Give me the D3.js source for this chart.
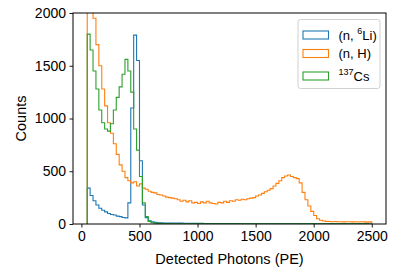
<!DOCTYPE html>
<html><head><meta charset="utf-8">
<script src="https://cdn.jsdelivr.net/npm/d3@7"></script>
<style>
html,body{margin:0;padding:0;background:#fff;}
svg{display:block;font-family:"Liberation Sans",Arial,Helvetica,sans-serif;}
</style></head>
<body><svg id="c" width="407" height="271"></svg>
<script>
// Histogram bins (PE): first edge and width
const binStart = 50;
const binWidth = 25;
const xTicks = [0, 500, 1000, 1500, 2000, 2500];
const yTicks = [0, 500, 1000, 1500, 2000];
const seriesNames = ["(n, 6Li)", "(n, H)", "137Cs"];
const colors = ["#1f77b4", "#ff7f0e", "#2ca02c"];

const nLi = [340,270,220,180,150,130,115,100,90,85,75,70,62,58,
  200,1100,1790,1550,600,180,60,
  30,20,15,12,11,10,10,9,9,8,8,8,7,7,7,6,6,6,6,5,5,5,5,5,4,4,4,4,4,4,4,3,3,3,3,3,3,3,3,3,3,3,3,2,2,2,2,2,2,2,2,2,2,2,2,2,2,2,2,2,2,2,2,2,1,1,1,1,1,1,1,1,1,1,1,1,1];
const nH = [2400,2150,1950,1700,1500,1280,1120,960,860,760,
  660,560,500,440,410,390,400,360,380,340,
  330,310,300,295,280,275,265,255,250,245,
  240,230,215,225,210,220,200,205,195,210,
  200,215,200,195,190,205,200,215,205,220,
  215,230,225,235,230,240,245,250,265,275,
  290,305,320,335,360,385,410,440,455,465,
  450,440,430,390,300,230,170,120,80,50,
  35,28,
  25,24,22,23,21,22,20,21,22,20,21,19,22,20,18,20];
const cs137 = [1800,1650,1450,1280,1080,960,900,880,950,1080,1200,1300,1420,1560,1450,1250,900,700,450,200,70,25,12,
  8,6,5,5,4,4,3,3,3,3,2,2,2,2,2,2,2,2,2,2,2,2,2,2,1,1,1,1,1,1,1,1,1,1,1,1,1,1,1,1,1,1,1,1,1,1,1,1,1,1,1,1,1,1,1,1,1,1,1,1,1,1,1,1,1,1,1,1,1,1,1,1,1,1];

const svg = d3.select("#c");
const L = 73, R = 386, T = 13, B = 224;
const x = d3.scaleLinear().domain([-72.5, 2622.5]).range([L, R]);
const y = d3.scaleLinear().domain([0, 2000]).range([B, T]);

svg.append("defs").append("clipPath").attr("id","clip")
  .append("rect").attr("x",L).attr("y",T).attr("width",R-L).attr("height",B-T);

function stepPoints(vals){
  const pts = [[binStart, 0]];
  vals.forEach((v,i)=>{
    const e0 = binStart + i*binWidth, e1 = e0 + binWidth;
    pts.push([e0, v]); pts.push([e1, v]);
  });
  pts.push([binStart + vals.length*binWidth, 0]);
  return pts;
}
const line = d3.line().x(d=>x(d[0])).y(d=>y(d[1]));
const g = svg.append("g").attr("clip-path","url(#clip)");
[nLi, nH, cs137].forEach((s,i)=>{
  g.append("path").attr("d", line(stepPoints(s)))
    .attr("fill","none").attr("stroke",colors[i]).attr("stroke-width",1.1)
    .attr("stroke-linejoin","miter");
});

// axes
const xa = svg.append("g").attr("transform",`translate(0,${B})`)
  .call(d3.axisBottom(x).tickValues(xTicks).tickSize(3.5).tickPadding(3.5).tickFormat(d3.format("d")));
const ya = svg.append("g").attr("transform",`translate(${L},0)`)
  .call(d3.axisLeft(y).tickValues(yTicks).tickSize(3.5).tickPadding(3.5).tickFormat(d3.format("d")));
[xa, ya].forEach(a=>{
  a.select(".domain").remove();
  a.selectAll("line").attr("stroke","#000").attr("stroke-width",0.9);
  a.selectAll("text").attr("fill","#000").attr("font-size",14)
    .attr("font-family","'Liberation Sans',Arial,sans-serif");
});
svg.append("rect").attr("x",L).attr("y",T).attr("width",R-L).attr("height",B-T)
  .attr("fill","none").attr("stroke","#000").attr("stroke-width",1);

svg.append("text").attr("x",(L+R)/2).attr("y",264).attr("text-anchor","middle")
  .attr("font-size",14.5).text("Detected Photons (PE)");
svg.append("text").attr("transform",`translate(26,${(T+B)/2}) rotate(-90)`)
  .attr("text-anchor","middle").attr("font-size",14.5).text("Counts");

// legend
const lg = svg.append("g");
lg.append("rect").attr("x",298).attr("y",19.5).attr("width",82).attr("height",69).attr("rx",2.5)
  .attr("fill","#fff").attr("fill-opacity",0.8).attr("stroke","#d0d0d0").attr("stroke-width",1);
const rowsY = [35, 53.5, 76];
const labels = [
  [{t:"(n, "},{t:"6",sup:true},{t:"Li)"}],
  [{t:"(n, H)"}],
  [{t:"137",sup:true},{t:"Cs"}]
];
rowsY.forEach((cy,i)=>{
  lg.append("rect").attr("x",303).attr("y",cy-4).attr("width",25.5).attr("height",8)
    .attr("fill","none").attr("stroke",colors[i]).attr("stroke-width",1.1);
  const t = lg.append("text").attr("x",338.5).attr("y",cy+4.5).attr("font-size",13);
  labels[i].forEach(p=>{
    const ts = t.append("tspan").text(p.t);
    if(p.sup) ts.attr("font-size",9).attr("dy",-6);
    else if(t.selectAll("tspan").size()>1 && labels[i][t.selectAll("tspan").size()-2].sup) ts.attr("dy",6);
  });
});
</script></body></html>
